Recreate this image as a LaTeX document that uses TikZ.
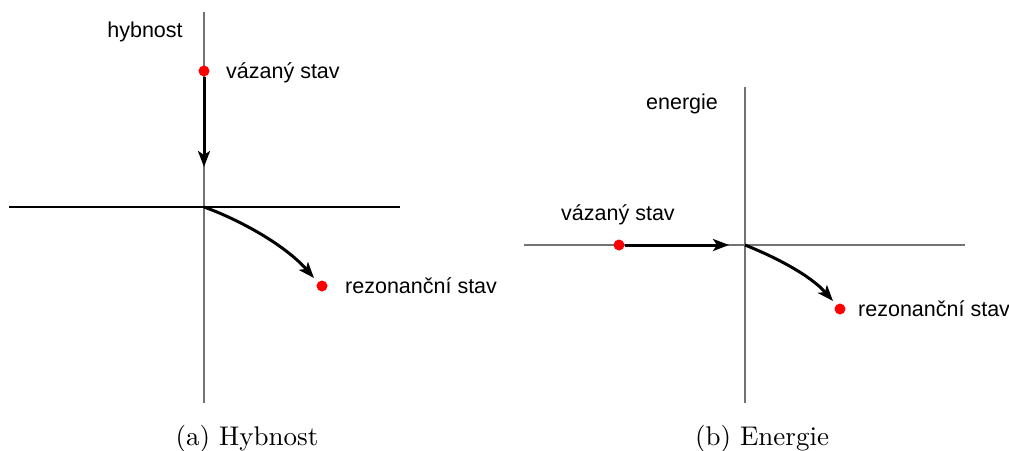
\documentclass[tikz,border=0pt]{standalone}
\usepackage{fontspec}
\newfontfamily\lbl{Liberation Sans}
\usetikzlibrary{arrows.meta}
\begin{document}
\begin{tikzpicture}[x=1pt,y=-1pt,
  axisblack/.style={line width=1.4pt,black},
  axisgray/.style={line width=1.4pt,black!55},
  flow/.style={line width=3pt,-{Stealth[length=16pt,width=12pt,inset=4pt]}},
  dot/.style={circle,fill=red,inner sep=0pt,minimum size=11pt},
  lab/.style={font=\lbl\fontsize{21.5}{24}\selectfont,inner sep=0pt},
  captext/.style={font=\fontsize{10}{12}\selectfont,inner sep=0pt,scale=2.7}]
\useasboundingbox (0,0) rectangle (1009,450);
% ---- panel (a)
\coordinate (aT) at (204,12);
\coordinate (aB) at (204,403);
\coordinate (aL) at (9,207);
\coordinate (aR) at (400,207);
\coordinate (aO) at (204,207);
\draw[axisgray] (aT) -- (aB);
\draw[axisblack] (aL) -- (aR);
\node[lab,anchor=base] (hyb) at (145,37) {hybnost};
\node[dot] (aV) at (204,71) {};
\node[lab,anchor=base west] (aVl) at (226,78) {vázaný stav};
\coordinate (aVend) at (204,167);
\draw[flow] (aV) -- (aVend);
\node[dot] (aR2) at (322,286) {};
\node[lab,anchor=base west] (aRl) at (345,293) {rezonanční stav};
\coordinate (aRend) at (314,278);
\draw[flow] (aO) .. controls (240,220) and (285,245) .. (aRend);
\node[captext,anchor=base] (capa) at (247,445) {(a) Hybnost};
% ---- panel (b)
\coordinate (bT) at (745,87);
\coordinate (bB) at (745,403);
\coordinate (bL) at (524,245);
\coordinate (bR) at (965,245);
\coordinate (bO) at (745,245);
\draw[axisgray] (bT) -- (bB);
\draw[axisgray] (bL) -- (bR);
\node[lab,anchor=base] (ene) at (682,109) {energie};
\node[dot] (bV) at (619,245) {};
\node[lab,anchor=base] (bVl) at (618,220) {vázaný stav};
\coordinate (bVend) at (729,245);
\draw[flow] (bV) -- (bVend);
\node[dot] (bR2) at (840,309) {};
\node[lab,anchor=base west] (bRl) at (858,316) {rezonanční stav};
\coordinate (bRend) at (833,301);
\draw[flow] (bO) .. controls (775,257) and (810,275) .. (bRend);
\node[captext,anchor=base] (capb) at (762,445) {(b) Energie};
\end{tikzpicture}
\end{document}
